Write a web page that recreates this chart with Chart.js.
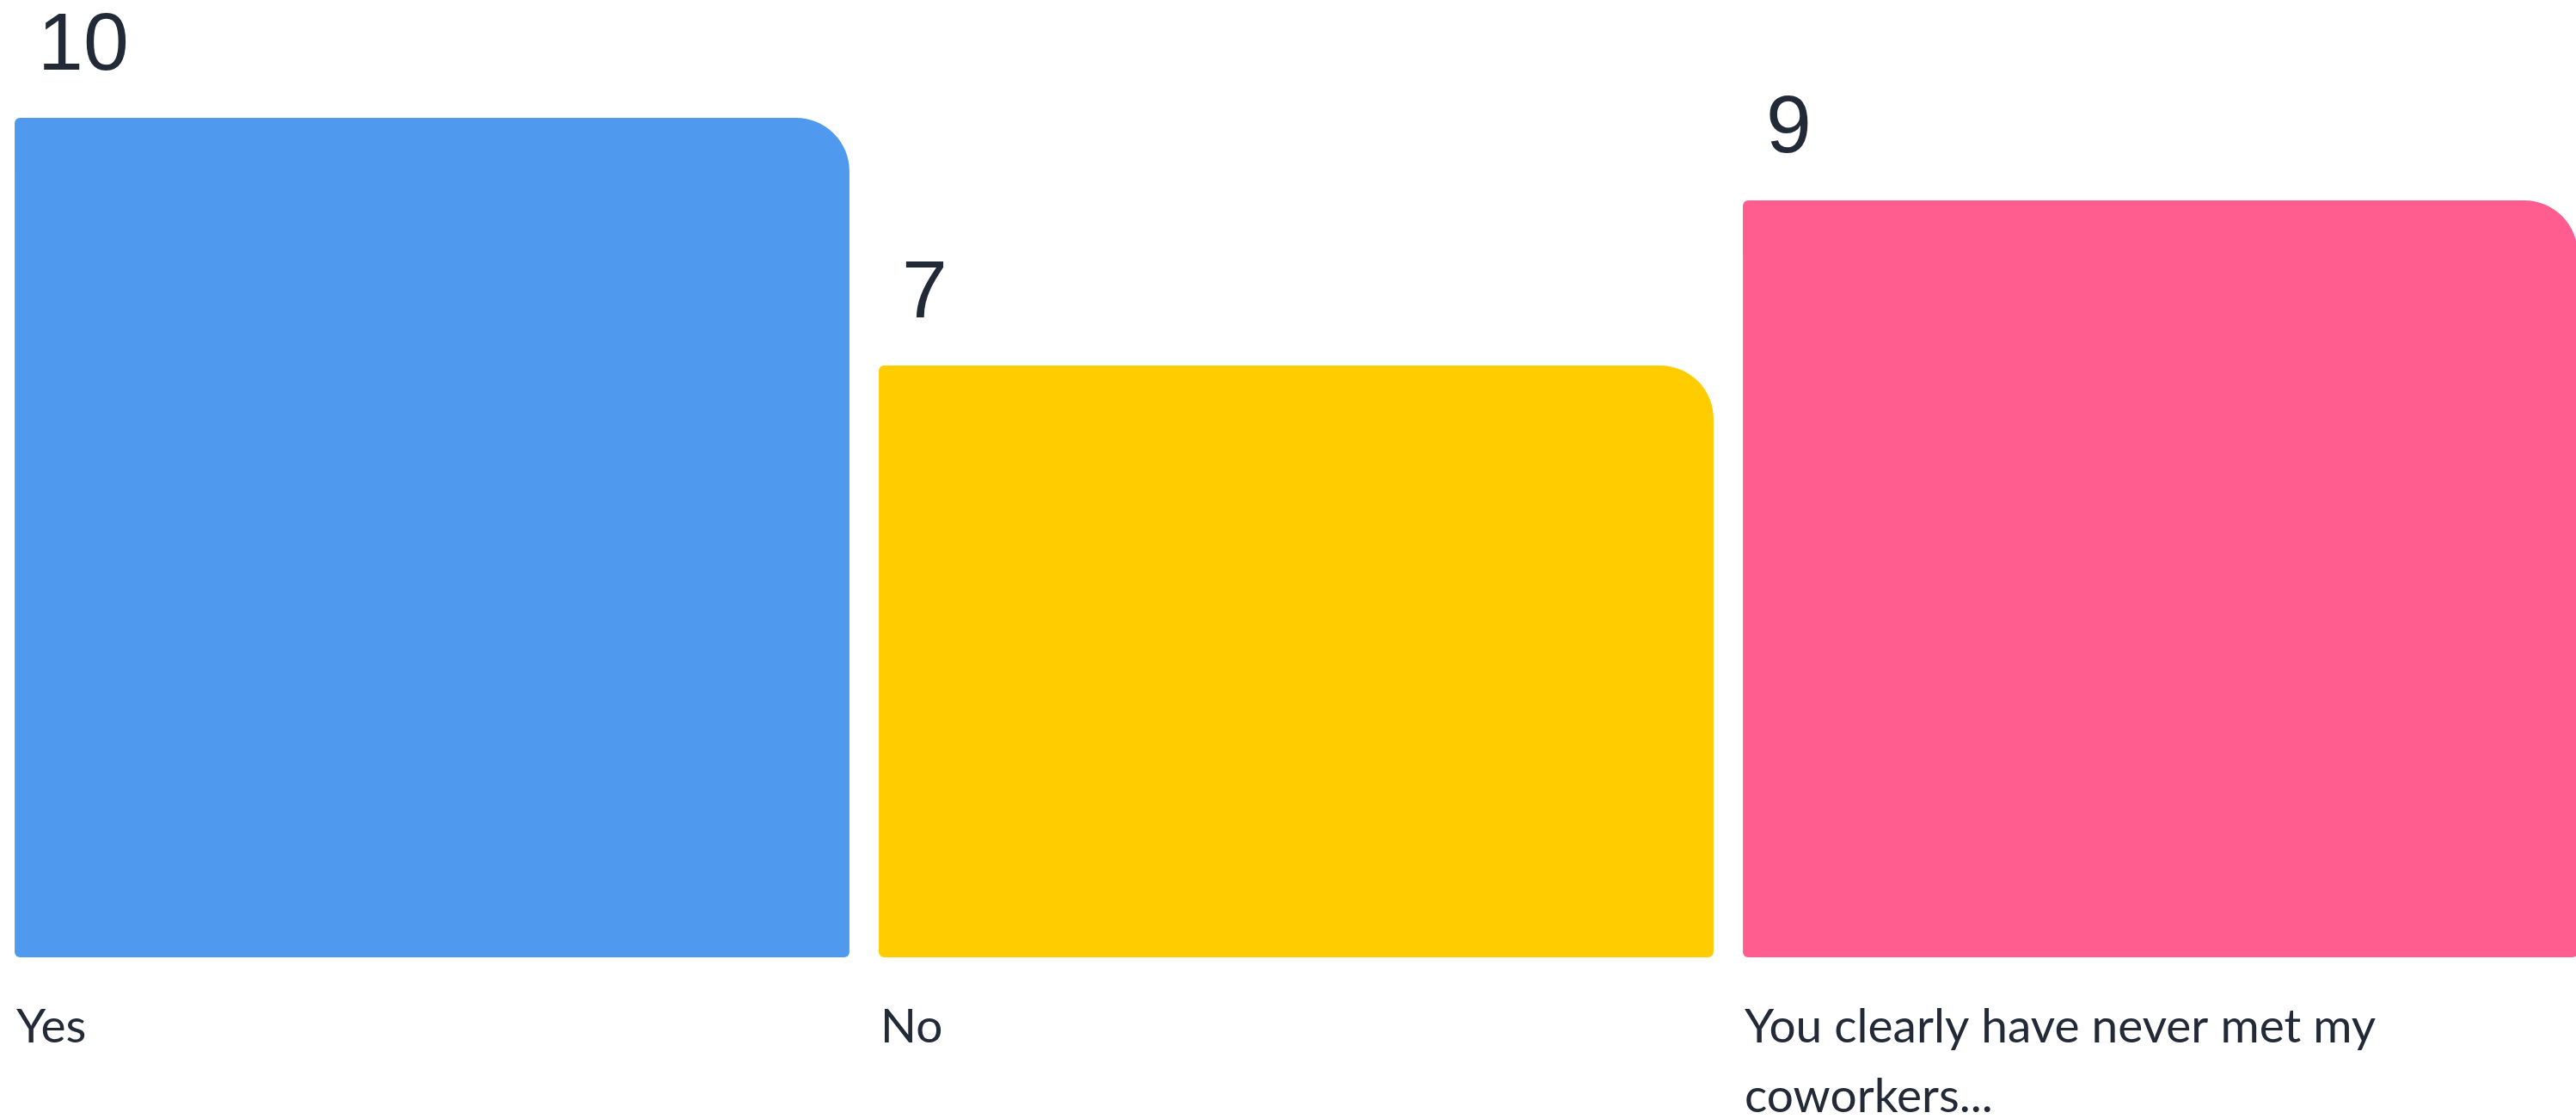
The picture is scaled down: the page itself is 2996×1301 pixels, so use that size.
<!DOCTYPE html>
<html>
<head>
<meta charset="utf-8">
<script src="https://cdn.jsdelivr.net/npm/chart.js@4"></script>
<style>
  html, body { margin: 0; padding: 0; background: #fff; overflow: hidden; }
  #wrap { position: relative; width: 3015px; height: 1301px; }
</style>
</head>
<body>
<div id="wrap"><canvas id="votes"></canvas></div>
<script>
// Poll results: one bar per answer, value printed above, answer text below.
const answers = ['Yes', 'No', ['You clearly have never met my', 'coworkers...']];
const votes = [10, 7, 9];
const barColors = ['#4f9aef', '#ffcc00', '#ff5d8f'];
const axisFloor = -0.17;

const textColor = '#232a37';

// draws the counts above each bar and the answer text under it,
// both left-aligned to the bar's left edge
const barText = {
  id: 'barText',
  afterDatasetsDraw(chart) {
    const ctx = chart.ctx;
    const meta = chart.getDatasetMeta(0);
    ctx.save();
    ctx.fillStyle = textColor;
    ctx.textAlign = 'left';
    ctx.textBaseline = 'alphabetic';
    meta.data.forEach((bar, i) => {
      const left = bar.x - bar.width / 2;
      ctx.font = '95px "Liberation Sans", Arial, sans-serif';
      ctx.fillText(String(votes[i]), left + 27, bar.y - 56);

      ctx.font = '55px Lato, "Noto Sans", sans-serif';
      const lines = Array.isArray(answers[i]) ? answers[i] : [answers[i]];
      const base = chart.chartArea.bottom + 99;
      lines.forEach((line, j) => {
        ctx.fillText(line, left + 2, base + j * 81);
      });
    });
    ctx.restore();
  }
};

function renderPoll() {
  const ctx = document.getElementById('votes').getContext('2d');
  return new Chart(ctx, {
    type: 'bar',
    data: {
      labels: answers,
      datasets: [{
        data: votes,
        base: axisFloor,
        backgroundColor: barColors,
        borderRadius: { topLeft: 6, topRight: 62, bottomLeft: 6, bottomRight: 6 },
        borderSkipped: false,
        categoryPercentage: 1,
        barPercentage: 0.966
      }]
    },
    options: {
      responsive: true,
      maintainAspectRatio: false,
      animation: false,
      layout: { padding: { top: 137, bottom: 188, left: 0, right: 0 } },
      scales: {
        x: { display: false },
        y: { display: false, min: axisFloor, max: 10 }
      },
      plugins: {
        legend: { display: false },
        tooltip: { enabled: false }
      }
    },
    plugins: [barText]
  });
}

renderPoll();
</script>
</body>
</html>
